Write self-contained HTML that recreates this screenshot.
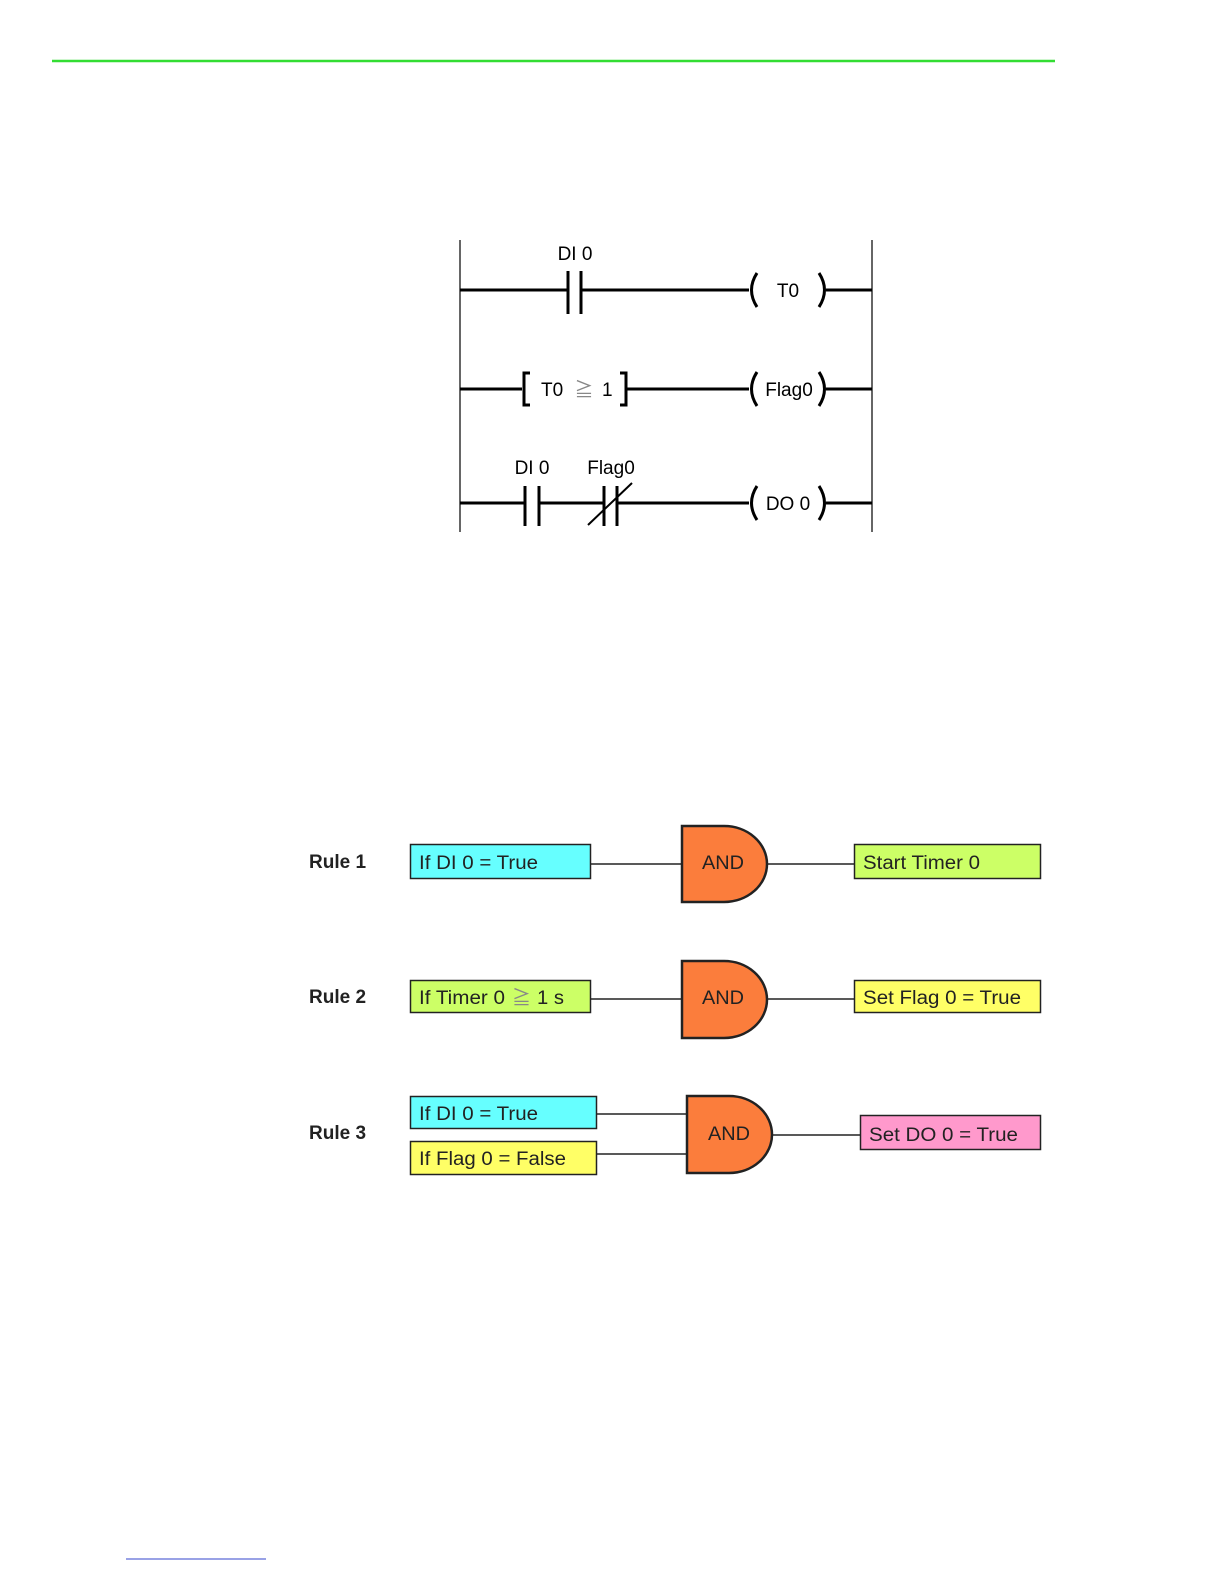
<!DOCTYPE html>
<html><head><meta charset="utf-8"><style>
html,body{margin:0;padding:0;background:#fff;}
svg{display:block;}
text{font-family:"Liberation Sans","Noto Sans CJK JP",sans-serif;}
</style></head><body>
<svg width="1224" height="1584" viewBox="0 0 1224 1584" xmlns="http://www.w3.org/2000/svg">
<line x1="52" y1="61" x2="1055" y2="61" stroke="#33dd33" stroke-width="2.5"/>
<line x1="126" y1="1559" x2="266" y2="1559" stroke="#3344cc" stroke-width="1"/>

<!-- Ladder -->
<g stroke="#000" fill="none">
<line x1="460" y1="240" x2="460" y2="532" stroke-width="1.2"/>
<line x1="872" y1="240" x2="872" y2="532" stroke-width="1.2"/>
<line x1="460" y1="290" x2="567" y2="290" stroke-width="3"/>
<line x1="568" y1="271" x2="568" y2="314" stroke-width="3"/>
<line x1="581" y1="271" x2="581" y2="314" stroke-width="3"/>
<line x1="581" y1="290" x2="749" y2="290" stroke-width="3"/>
<path d="M757,273 Q746,290 757,307" stroke-width="3"/>
<path d="M819,273 Q830,290 819,307" stroke-width="3"/>
<line x1="826" y1="290" x2="872" y2="290" stroke-width="3"/>
<line x1="460" y1="389" x2="522" y2="389" stroke-width="3"/>
<path d="M530,373 L524,373 L524,405 L530,405" stroke-width="3"/>
<path d="M620,373 L626,373 L626,405 L620,405" stroke-width="3"/>
<line x1="626" y1="389" x2="749" y2="389" stroke-width="3"/>
<path d="M757,372 Q746,389 757,406" stroke-width="3"/>
<path d="M819,372 Q830,389 819,406" stroke-width="3"/>
<line x1="826" y1="389" x2="872" y2="389" stroke-width="3"/>
<line x1="460" y1="503" x2="524" y2="503" stroke-width="3"/>
<line x1="525" y1="486" x2="525" y2="526" stroke-width="3"/>
<line x1="539" y1="486" x2="539" y2="526" stroke-width="3"/>
<line x1="539" y1="503" x2="604" y2="503" stroke-width="3"/>
<line x1="604" y1="486" x2="604" y2="526" stroke-width="3"/>
<line x1="617" y1="486" x2="617" y2="526" stroke-width="3"/>
<line x1="588" y1="525" x2="632" y2="483" stroke-width="2"/>
<line x1="617" y1="503" x2="749" y2="503" stroke-width="3"/>
<path d="M757,486 Q746,503 757,520" stroke-width="3"/>
<path d="M819,486 Q830,503 819,520" stroke-width="3"/>
<line x1="826" y1="503" x2="872" y2="503" stroke-width="3"/>
</g>
<g font-size="19" fill="#000">
<text x="575" y="260" text-anchor="middle">DI 0</text>
<text x="788" y="297" text-anchor="middle">T0</text>
<text x="541" y="396">T0</text>
<text x="584" y="396" text-anchor="middle" fill="#888">≧</text>
<text x="602" y="396">1</text>
<text x="789" y="396" text-anchor="middle">Flag0</text>
<text x="532" y="474" text-anchor="middle">DI 0</text>
<text x="611" y="474" text-anchor="middle">Flag0</text>
<text x="788" y="510" text-anchor="middle">DO 0</text>
</g>

<g font-size="19" font-weight="bold" fill="#222">
<text x="309" y="868">Rule 1</text>
<text x="309" y="1003">Rule 2</text>
<text x="309" y="1139">Rule 3</text>
</g>
<g stroke="#222" stroke-width="1.5">
<rect x="410.5" y="844.5" width="180" height="34" fill="#66ffff"/>
<rect x="854.5" y="844.5" width="186" height="34" fill="#ccff66"/>
<rect x="410.5" y="980.5" width="180" height="32" fill="#ccff66"/>
<rect x="854.5" y="980.5" width="186" height="32" fill="#ffff66"/>
<rect x="410.5" y="1096.5" width="186" height="32" fill="#66ffff"/>
<rect x="410.5" y="1141.5" width="186" height="33" fill="#ffff66"/>
<rect x="860.5" y="1115.5" width="180" height="34" fill="#ff99cc"/>
<line x1="591" y1="864" x2="682" y2="864"/>
<line x1="768" y1="864" x2="854" y2="864"/>
<line x1="591" y1="999" x2="682" y2="999"/>
<line x1="768" y1="999" x2="854" y2="999"/>
<line x1="597" y1="1114" x2="687" y2="1114"/>
<line x1="597" y1="1154" x2="687" y2="1154"/>
<line x1="773" y1="1135" x2="860" y2="1135"/>
</g>
<g fill="#fb7d3c" stroke="#222" stroke-width="2.5">
<path d="M682,826 L724,826 A43,38 0 0 1 724,902 L682,902 Z"/>
<path d="M682,961 L724,961 A43,38.5 0 0 1 724,1038 L682,1038 Z"/>
<path d="M687,1096 L729,1096 A43,38.5 0 0 1 729,1173 L687,1173 Z"/>
</g>
<g font-size="19" fill="#222">
<text x="419" y="869" textLength="119" lengthAdjust="spacingAndGlyphs">If DI 0 = True</text>
<text x="863" y="869" textLength="117" lengthAdjust="spacingAndGlyphs">Start Timer 0</text>
<text x="702" y="869" textLength="42" lengthAdjust="spacingAndGlyphs">AND</text>
<text x="419" y="1004" textLength="86" lengthAdjust="spacingAndGlyphs">If Timer 0</text>
<text x="512" y="1004" fill="#888">≧</text>
<text x="537" y="1004" textLength="27" lengthAdjust="spacingAndGlyphs">1 s</text>
<text x="863" y="1004" textLength="158" lengthAdjust="spacingAndGlyphs">Set Flag 0 = True</text>
<text x="702" y="1004" textLength="42" lengthAdjust="spacingAndGlyphs">AND</text>
<text x="419" y="1120" textLength="119" lengthAdjust="spacingAndGlyphs">If DI 0 = True</text>
<text x="419" y="1165" textLength="147" lengthAdjust="spacingAndGlyphs">If Flag 0 = False</text>
<text x="708" y="1140" textLength="42" lengthAdjust="spacingAndGlyphs">AND</text>
<text x="869" y="1141" textLength="149" lengthAdjust="spacingAndGlyphs">Set DO 0 = True</text>
</g>
</svg>
</body></html>
